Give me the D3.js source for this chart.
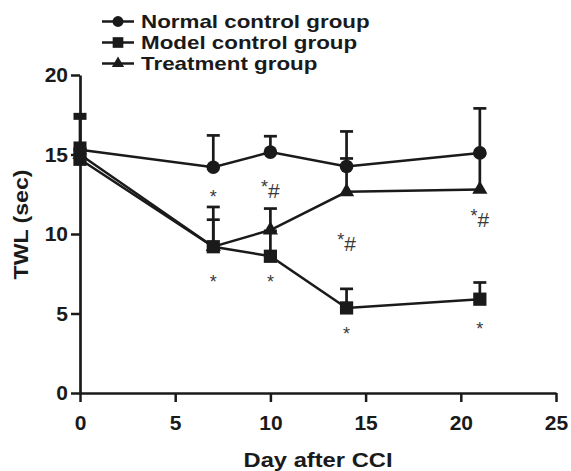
<!DOCTYPE html>
<html>
<head>
<meta charset="utf-8">
<script src="https://cdn.jsdelivr.net/npm/d3@7"></script>
<style>
    body { margin: 0; background: #fff; }
    svg text { font-family: "Liberation Sans", Arial, sans-serif; }
</style>
</head>
<body>
<div id="chart"></div>
<script>
// data
var days = [0, 7, 10, 14, 21];
var seriesNames = ["Normal control group", "Model control group", "Treatment group"];
var normalMean = [15.3, 14.2, 15.15, 14.25, 15.1];
var normalErr = [0.3, 2.0, 1.0, 2.2, 2.8];
var modelMean = [14.7, 9.2, 8.6, 5.35, 5.9];
var modelErr = [2.7, 2.5, 1.6, 1.2, 1.05];
var treatMean = [15.0, 9.2, 10.25, 12.65, 12.8];
var treatErr = [0.2, 1.7, 1.35, 2.1, 2.25];
var xTicks = [0, 5, 10, 15, 20, 25];
var yTicks = [0, 5, 10, 15, 20];
var marks = [
    {day: 7, y: 12.35, label: "*"}, {day: 7, y: 7.0, label: "*"},
    {day: 10, y: 12.75, label: "*#"}, {day: 10, y: 7.0, label: "*"},
    {day: 14, y: 9.45, label: "*#"}, {day: 14, y: 3.7, label: "*"},
    {day: 21, y: 10.95, label: "*#"}, {day: 21, y: 4.0, label: "*"}
];

var W = 571, H = 471;
var margin = {left: 80, top: 75, right: 15, bottom: 78};

var svg = d3.select("#chart").append("svg")
    .attr("width", W).attr("height", H);

var x = d3.scaleLinear().domain([0, 25]).range([margin.left, 556]);
var y = d3.scaleLinear().domain([0, 20]).range([393, margin.top]);

var ink = "#1a1a1a";

// axes
var xAxis = svg.append("g")
    .attr("transform", "translate(0," + y(0) + ")")
    .call(d3.axisBottom(x).tickValues(xTicks).tickSize(9).tickPadding(13).tickSizeOuter(0));
var yAxis = svg.append("g")
    .attr("transform", "translate(" + x(0) + ",0)")
    .call(d3.axisLeft(y).tickValues(yTicks).tickSize(9).tickPadding(3).tickSizeOuter(0));

[xAxis, yAxis].forEach(function (ax) {
    ax.select(".domain").attr("stroke", ink).attr("stroke-width", 2.7);
    ax.selectAll(".tick line").attr("stroke", ink).attr("stroke-width", 2.5);
    ax.selectAll(".tick text")
        .attr("fill", ink)
        .style("font-size", "21px")
        .style("font-weight", "bold");
});

svg.append("text")
    .attr("transform", "translate(21," + y(10.6) + ") rotate(-90) scale(1.1,1)")
    .attr("text-anchor", "middle")
    .attr("dominant-baseline", "central")
    .attr("fill", ink)
    .style("font-size", "21px").style("font-weight", "bold")
    .text("TWL (sec)");

svg.append("text")
    .attr("transform", "translate(" + x(12.5) + ",460) scale(1.13,1)")
    .attr("text-anchor", "middle")
    .attr("dominant-baseline", "central")
    .attr("fill", ink)
    .style("font-size", "21px").style("font-weight", "bold")
    .text("Day after CCI");

function toPoints(means, errs) {
    return days.map(function (d, i) { return {day: d, v: means[i], e: errs[i]}; });
}

var series = [
    {name: seriesNames[0], pts: toPoints(normalMean, normalErr), shape: d3.symbolCircle, size: 145},
    {name: seriesNames[1], pts: toPoints(modelMean, modelErr), shape: d3.symbolSquare, size: 175},
    {name: seriesNames[2], pts: toPoints(treatMean, treatErr), shape: d3.symbolTriangle, size: 100}
];

var line = d3.line()
    .x(function (d) { return x(d.day); })
    .y(function (d) { return y(d.v); });

// lines first
series.forEach(function (s) {
    svg.append("path")
        .datum(s.pts)
        .attr("fill", "none")
        .attr("stroke", ink)
        .attr("stroke-width", 2.5)
        .attr("d", line);
});

// upward error bars with caps (caps on the y axis come out chunkier)
series.forEach(function (s) {
    var g = svg.append("g").attr("stroke", ink).attr("stroke-width", 2.7);
    g.selectAll("line.bar").data(s.pts).enter().append("line")
        .attr("x1", function (d) { return x(d.day); })
        .attr("x2", function (d) { return x(d.day); })
        .attr("y1", function (d) { return y(d.v); })
        .attr("y2", function (d) { return y(d.v + d.e); });
    g.selectAll("line.cap").data(s.pts).enter().append("line")
        .attr("x1", function (d) { return x(d.day) - 6.5; })
        .attr("x2", function (d) { return x(d.day) + 6.5; })
        .attr("y1", function (d) { return y(d.v + d.e); })
        .attr("y2", function (d) { return y(d.v + d.e); })
        .attr("stroke-width", function (d) { return d.day === 0 ? 7 : 2.7; });
});

// markers (draw treatment, model, then normal on top)
series.slice().reverse().forEach(function (s) {
    svg.append("g").selectAll("path").data(s.pts).enter().append("path")
        .attr("transform", function (d) { return "translate(" + x(d.day) + "," + y(d.v) + ")"; })
        .attr("d", d3.symbol().type(s.shape).size(s.size))
        .attr("fill", ink);
});

// significance marks
var markG = svg.append("g").attr("fill", "#3a3a3a");
marks.forEach(function (m) {
    var t = markG.append("text")
        .attr("x", x(m.day)).attr("y", y(m.y))
        .attr("text-anchor", "middle")
        .attr("dominant-baseline", "central");
    t.append("tspan").text("*").style("font-size", "18px").attr("dy", m.label.length > 1 ? -3 : 0);
    if (m.label.length > 1) {
        t.append("tspan").text("#").style("font-size", "21px").attr("dy", 3);
    }
});

// legend
var legend = svg.append("g");
series.forEach(function (s, i) {
    var ly = 21.5 + i * 21;
    legend.append("line")
        .attr("x1", 102).attr("x2", 134)
        .attr("y1", ly).attr("y2", ly)
        .attr("stroke", ink).attr("stroke-width", 2.5);
    legend.append("path")
        .attr("transform", "translate(118," + ly + ")")
        .attr("d", d3.symbol().type(s.shape).size(s.size * 0.65))
        .attr("fill", ink);
    legend.append("text")
        .attr("transform", "translate(141," + ly + ") scale(1.19,1)")
        .attr("dominant-baseline", "central")
        .attr("fill", ink)
        .style("font-size", "18.8px").style("font-weight", "bold")
        .text(s.name);
});
</script>
</body>
</html>
